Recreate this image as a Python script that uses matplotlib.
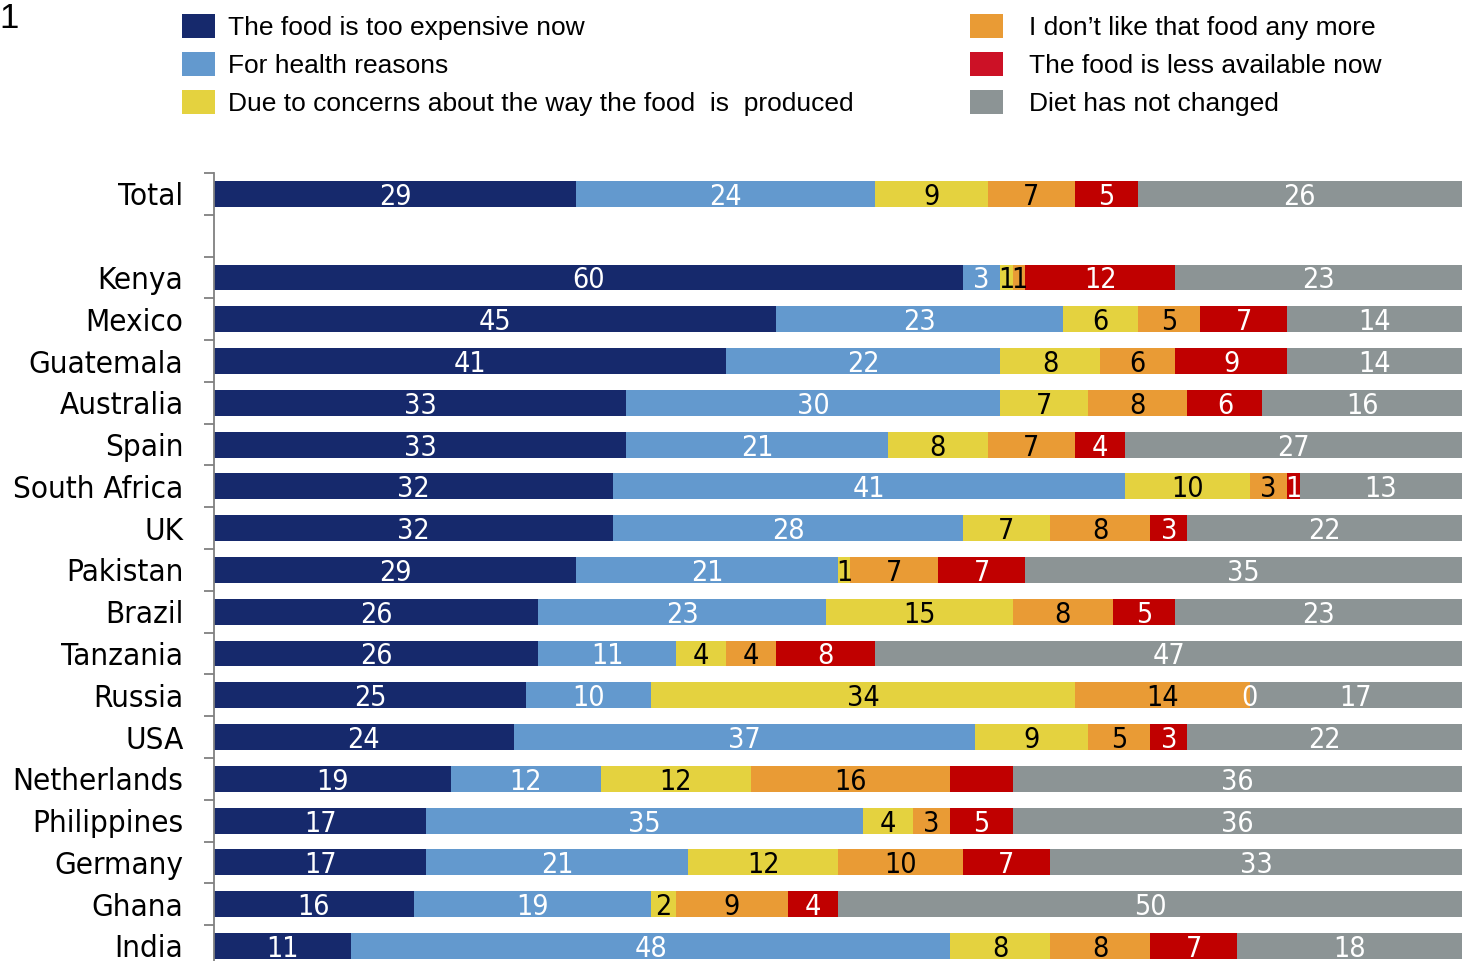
import matplotlib
matplotlib.use("Agg")
import matplotlib.pyplot as plt
import numpy as np
from matplotlib.patches import Patch

categories = ["Total", "Kenya", "Mexico", "Guatemala", "Australia", "Spain",
              "South Africa", "UK", "Pakistan", "Brazil", "Tanzania", "Russia",
              "USA", "Netherlands", "Philippines", "Germany", "Ghana", "India"]

series_names = ["The food is too expensive now",
                "For health reasons",
                "Due to concerns about the way the food  is  produced",
                "I don\u2019t like that food any more",
                "The food is less available now",
                "Diet has not changed"]

too_expensive = [29, 60, 45, 41, 33, 33, 32, 32, 29, 26, 26, 25, 24, 19, 17, 17, 16, 11]
health        = [24, 3, 23, 22, 30, 21, 41, 28, 21, 23, 11, 10, 37, 12, 35, 21, 19, 48]
production    = [9, 1, 6, 8, 7, 8, 10, 7, 1, 15, 4, 34, 9, 12, 4, 12, 2, 8]
dislike       = [7, 1, 5, 6, 8, 7, 3, 8, 7, 8, 4, 14, 5, 16, 3, 10, 9, 8]
less_avail    = [5, 12, 7, 9, 6, 4, 1, 3, 7, 5, 8, 0, 3, 5, 5, 7, 4, 7]
not_changed   = [26, 23, 14, 14, 16, 27, 13, 22, 35, 23, 47, 17, 22, 36, 36, 33, 50, 18]

series = [too_expensive, health, production, dislike, less_avail, not_changed]
colors = ["#16296C", "#6399CE", "#E4D23F", "#E99B35", "#C00000", "#8C9495"]
legend_colors = ["#16296C", "#6399CE", "#E4D23F", "#E99B35", "#CC1126", "#8C9495"]
label_colors = ["white", "white", "black", "black", "white", "white"]
# labels not printed in the original (category, series index)
hidden_labels = {("Netherlands", 4)}

# slot positions: Total, blank slot, then countries
positions = [0] + list(range(2, 2 + len(categories) - 1))

W, H = 1462, 961
fig = plt.figure(figsize=(W / 100, H / 100), dpi=100)
ax_top_px = 173
ax = fig.add_axes([214 / W, 0, 1 - 214 / W, (H - ax_top_px) / H])

left = np.zeros(len(categories))
for i, (vals, col) in enumerate(zip(series, colors)):
    vals = np.array(vals, dtype=float)
    bars = ax.barh(positions, vals, left=left, height=0.62, color=col,
                   edgecolor="none", label=series_names[i], zorder=2)
    labels = []
    for c, v in zip(categories, vals):
        if (c, i) in hidden_labels:
            labels.append("")
        else:
            labels.append(f"{int(v)}")
    texts = ax.bar_label(bars, labels=labels, label_type="center",
                         color=label_colors[i], fontsize=20.5,
                         fontfamily="DejaVu Sans", fontstretch="condensed")
    for t in texts:
        t.set_va("center_baseline")
    left += vals

for s in ["top", "right", "bottom"]:
    ax.spines[s].set_visible(False)
ax.spines["left"].set_color("#808080")
ax.spines["left"].set_linewidth(1.3)
ax.set_xticks([])

ax.set_yticks(positions)
ax.set_yticklabels(categories, fontsize=22.5, fontfamily="DejaVu Sans",
                   fontstretch="condensed")
ax.tick_params(axis="y", which="major", length=0, pad=22)
ax.set_yticks(np.arange(-0.5, 18, 1.0), minor=True)
ax.tick_params(axis="y", which="minor", length=7.2, width=1.3, color="#808080",
               direction="out")

ax.set_xlim(0, 100)
ax.set_ylim(18.36, -0.5)

# legends
handles = [Patch(facecolor=c, edgecolor="none") for c in legend_colors]
leg_kw = dict(frameon=False, handlelength=1.25, handleheight=1.0,
              labelspacing=0.47, borderpad=0, borderaxespad=0,
              prop={"family": "Liberation Sans", "size": 19})
fig.legend(handles[:3], series_names[:3], loc="upper left",
           bbox_to_anchor=(182 / W, 1 - 14 / H), handletextpad=0.5, **leg_kw)
fig.legend(handles[3:], series_names[3:], loc="upper left",
           bbox_to_anchor=(970 / W, 1 - 14 / H), handletextpad=1.0, **leg_kw)

fig.text(-1 / W, 1 - 28 / H, "1", fontsize=25, fontfamily="Liberation Sans",
         va="baseline", ha="left")

fig.savefig("out.png", dpi=100)
